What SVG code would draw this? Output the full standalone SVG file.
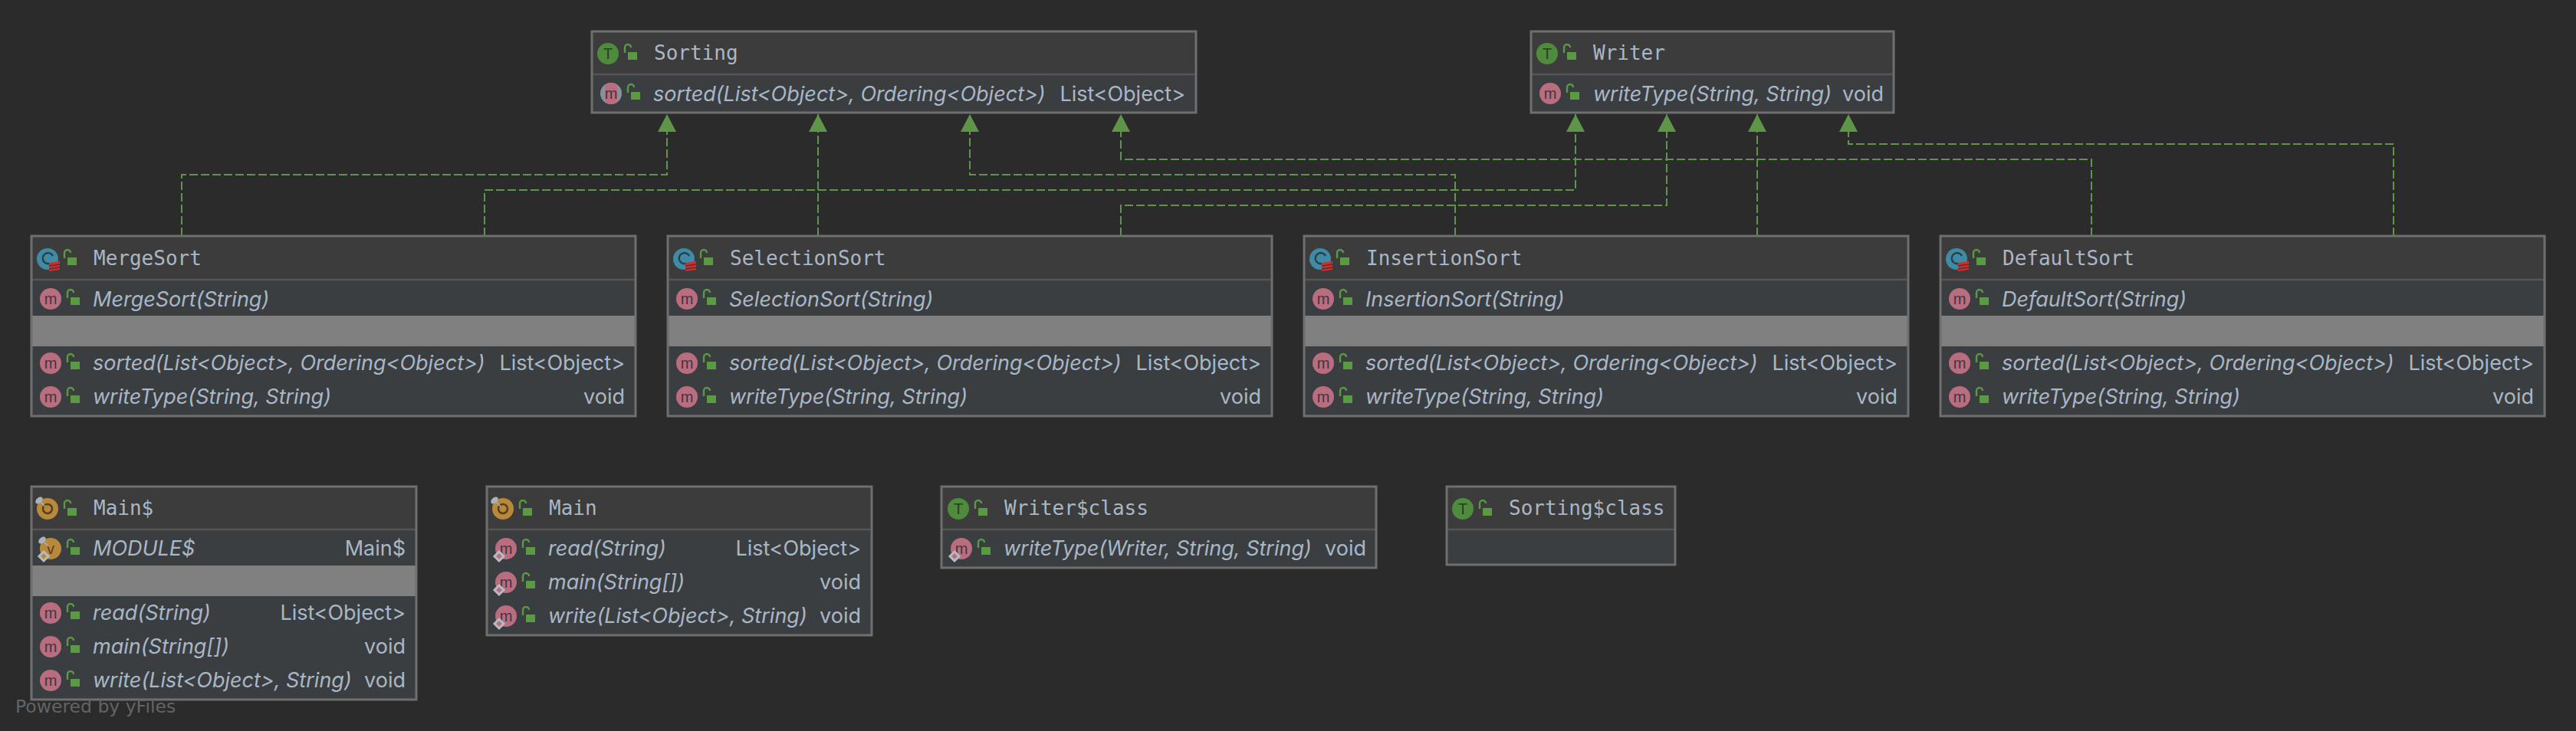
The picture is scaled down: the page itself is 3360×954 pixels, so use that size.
<svg xmlns="http://www.w3.org/2000/svg" width="3360" height="954" viewBox="0 0 3360 954">
<style>
.box{fill:#3b3e41;stroke:none}
.hd{fill:#3c3c3c}
.bd{fill:none;stroke:#6f6f6f;stroke-width:3}
.dv{stroke:#555;stroke-width:2.5}
.gr{fill:#808080}
.t{font-family:"DejaVu Sans Mono","Liberation Mono",monospace;font-size:26px;fill:#a9b7c6}
.s{font-family:Inter,"Liberation Sans",sans-serif;font-size:27px;fill:#a9b7c6;font-style:italic}
.r{font-family:Inter,"Liberation Sans",sans-serif;font-size:27px;fill:#a9b7c6;text-anchor:end}
.ic{font-family:"Liberation Sans",sans-serif;font-size:20px;text-anchor:middle}
.c{fill:none;stroke:#5e9548;stroke-width:2;stroke-dasharray:11 4}
.pb{font-family:"DejaVu Sans",sans-serif;font-size:23.5px;fill:#626466}
</style>
<defs>
<clipPath id="rc"><circle r="14"/></clipPath>
<marker id="arr" markerUnits="userSpaceOnUse" markerWidth="24" markerHeight="24" refX="23" refY="12" orient="auto"><path d="M0 0L23 12L0 24Z" fill="#5e9548"/></marker>
<g id="lock"><path d="M-7 -2V-9a4 4 0 0 1 8 0" fill="none" stroke="#5a9a42" stroke-width="2.4"/><rect x="-3" y="-3" width="12" height="10" fill="#5a9a42"/></g>
<g id="m"><circle r="14" fill="#b96d7f"/><text class="ic" y="7" fill="#45343a">m</text></g>
<g id="mr"><circle r="14" fill="#87939c"/><rect x="-8" y="-14" width="16" height="28" fill="#b96d7f" clip-path="url(#rc)"/><text class="ic" y="7" fill="#45343a">m</text></g>
<g id="T"><circle r="14" fill="#4f8b3c"/><text class="ic" y="7" fill="#2d3a2a">T</text></g>
<g id="O"><circle r="14" fill="#b8883b"/><circle r="6" fill="none" stroke="#54401f" stroke-width="2.5"/><line x1="-11" y1="-11" x2="-3" y2="-3" stroke="#a8b3bb" stroke-width="1.5"/><ellipse cx="-11" cy="-11" rx="5.5" ry="3.5" transform="rotate(-40 -11 -11)" fill="#a8b3bb"/></g>
<g id="C"><circle r="14" fill="#3f8ba6"/><path d="M7 -4A7 7 0 1 0 2 6" fill="none" stroke="#2b3f4a" stroke-width="2.5"/><path d="M2 5L16 3L16 14L2 16Z" fill="#d92a2a"/><path d="M2 9L16 7M2 13L16 11" stroke="#3c3c3c" stroke-width="1.4"/></g>
<g id="V"><circle r="14" fill="#b8883b"/><text class="ic" y="7" fill="#54401f">v</text><line x1="-11" y1="-11" x2="-3" y2="-3" stroke="#a8b3bb" stroke-width="1.5"/><ellipse cx="-11" cy="-11" rx="5.5" ry="3.5" transform="rotate(-40 -11 -11)" fill="#a8b3bb"/><path d="M-9 4L-3 10L-9 16L-15 10Z" fill="#b8883b" stroke="#b5bcc2" stroke-width="3"/></g>
<g id="d"><path d="M-9 4L-3 10L-9 16L-15 10Z" fill="#b96d7f" stroke="#b5bcc2" stroke-width="3"/></g>
</defs>
<rect width="3360" height="954" fill="#2b2b2b"/>
<g id="connectors">
<path class="c" marker-end="url(#arr)" d="M237 308V228H870V149"/>
<path class="c" marker-end="url(#arr)" d="M632 308V248H2055V149"/>
<path class="c" marker-end="url(#arr)" d="M1067 308V149"/>
<path class="c" marker-end="url(#arr)" d="M1462 308V268H2174V149"/>
<path class="c" marker-end="url(#arr)" d="M1898 308V228H1265V149"/>
<path class="c" marker-end="url(#arr)" d="M2292 308V149"/>
<path class="c" marker-end="url(#arr)" d="M2728 308V208H1462V149"/>
<path class="c" marker-end="url(#arr)" d="M3122 308V188H2411V149"/>
</g>
<g id="Sorting"><rect class="box" x="772" y="41" width="788" height="106"/><rect class="hd" x="772" y="41" width="788" height="56"/><line class="dv" x1="772" x2="1560" y1="97" y2="97"/><rect class="bd" x="772" y="41" width="788" height="106"/>
<use href="#T" x="793" y="70"/><use href="#lock" x="822" y="71"/><text class="t" x="853" y="78">Sorting</text>
<use href="#mr" x="797" y="122"/><use href="#lock" x="826" y="123"/><text class="s" x="852" y="132">sorted(List&lt;Object&gt;, Ordering&lt;Object&gt;)</text><text class="r" x="1546" y="132">List&lt;Object&gt;</text></g>
<g id="Writer"><rect class="box" x="1997" y="41" width="473" height="106"/><rect class="hd" x="1997" y="41" width="473" height="56"/><line class="dv" x1="1997" x2="2470" y1="97" y2="97"/><rect class="bd" x="1997" y="41" width="473" height="106"/>
<use href="#T" x="2018" y="70"/><use href="#lock" x="2047" y="71"/><text class="t" x="2078" y="78">Writer</text>
<use href="#m" x="2022" y="122"/><use href="#lock" x="2051" y="123"/><text class="s" x="2078" y="132">writeType(String, String)</text><text class="r" x="2457" y="132">void</text></g>
<g id="MergeSort"><rect class="box" x="41" y="308" width="788" height="235"/><rect class="hd" x="41" y="308" width="788" height="57"/><line class="dv" x1="41" x2="829" y1="365" y2="365"/><rect class="gr" x="41" y="412" width="788" height="40"/><rect class="bd" x="41" y="308" width="788" height="235"/>
<use href="#C" x="62" y="338"/><use href="#lock" x="91" y="339"/><text class="t" x="122" y="346">MergeSort</text>
<use href="#m" x="66" y="390"/><use href="#lock" x="95" y="391"/><text class="s" x="121" y="400">MergeSort(String)</text>
<use href="#m" x="66" y="474"/><use href="#lock" x="95" y="475"/><text class="s" x="121" y="483">sorted(List&lt;Object&gt;, Ordering&lt;Object&gt;)</text><text class="r" x="815" y="483">List&lt;Object&gt;</text>
<use href="#m" x="66" y="518"/><use href="#lock" x="95" y="519"/><text class="s" x="121" y="527">writeType(String, String)</text><text class="r" x="815" y="527">void</text></g>
<g id="SelectionSort"><rect class="box" x="871" y="308" width="788" height="235"/><rect class="hd" x="871" y="308" width="788" height="57"/><line class="dv" x1="871" x2="1659" y1="365" y2="365"/><rect class="gr" x="871" y="412" width="788" height="40"/><rect class="bd" x="871" y="308" width="788" height="235"/>
<use href="#C" x="892" y="338"/><use href="#lock" x="921" y="339"/><text class="t" x="952" y="346">SelectionSort</text>
<use href="#m" x="896" y="390"/><use href="#lock" x="925" y="391"/><text class="s" x="951" y="400">SelectionSort(String)</text>
<use href="#m" x="896" y="474"/><use href="#lock" x="925" y="475"/><text class="s" x="951" y="483">sorted(List&lt;Object&gt;, Ordering&lt;Object&gt;)</text><text class="r" x="1645" y="483">List&lt;Object&gt;</text>
<use href="#m" x="896" y="518"/><use href="#lock" x="925" y="519"/><text class="s" x="951" y="527">writeType(String, String)</text><text class="r" x="1645" y="527">void</text></g>
<g id="InsertionSort"><rect class="box" x="1701" y="308" width="788" height="235"/><rect class="hd" x="1701" y="308" width="788" height="57"/><line class="dv" x1="1701" x2="2489" y1="365" y2="365"/><rect class="gr" x="1701" y="412" width="788" height="40"/><rect class="bd" x="1701" y="308" width="788" height="235"/>
<use href="#C" x="1722" y="338"/><use href="#lock" x="1751" y="339"/><text class="t" x="1782" y="346">InsertionSort</text>
<use href="#m" x="1726" y="390"/><use href="#lock" x="1755" y="391"/><text class="s" x="1781" y="400">InsertionSort(String)</text>
<use href="#m" x="1726" y="474"/><use href="#lock" x="1755" y="475"/><text class="s" x="1781" y="483">sorted(List&lt;Object&gt;, Ordering&lt;Object&gt;)</text><text class="r" x="2475" y="483">List&lt;Object&gt;</text>
<use href="#m" x="1726" y="518"/><use href="#lock" x="1755" y="519"/><text class="s" x="1781" y="527">writeType(String, String)</text><text class="r" x="2475" y="527">void</text></g>
<g id="DefaultSort"><rect class="box" x="2531" y="308" width="788" height="235"/><rect class="hd" x="2531" y="308" width="788" height="57"/><line class="dv" x1="2531" x2="3319" y1="365" y2="365"/><rect class="gr" x="2531" y="412" width="788" height="40"/><rect class="bd" x="2531" y="308" width="788" height="235"/>
<use href="#C" x="2552" y="338"/><use href="#lock" x="2581" y="339"/><text class="t" x="2612" y="346">DefaultSort</text>
<use href="#m" x="2556" y="390"/><use href="#lock" x="2585" y="391"/><text class="s" x="2611" y="400">DefaultSort(String)</text>
<use href="#m" x="2556" y="474"/><use href="#lock" x="2585" y="475"/><text class="s" x="2611" y="483">sorted(List&lt;Object&gt;, Ordering&lt;Object&gt;)</text><text class="r" x="3305" y="483">List&lt;Object&gt;</text>
<use href="#m" x="2556" y="518"/><use href="#lock" x="2585" y="519"/><text class="s" x="2611" y="527">writeType(String, String)</text><text class="r" x="3305" y="527">void</text></g>
<g id="MainObject"><rect class="box" x="41" y="635" width="502" height="278"/><rect class="hd" x="41" y="635" width="502" height="56"/><line class="dv" x1="41" x2="543" y1="691" y2="691"/><rect class="gr" x="41" y="738" width="502" height="40"/><rect class="bd" x="41" y="635" width="502" height="278"/>
<use href="#O" x="62" y="664"/><use href="#lock" x="91" y="666"/><text class="t" x="122" y="672">Main$</text>
<use href="#V" x="66" y="716"/><use href="#lock" x="95" y="717"/><text class="s" x="121" y="725">MODULE$</text><text class="r" x="529" y="725">Main$</text>
<use href="#m" x="66" y="800"/><use href="#lock" x="95" y="801"/><text class="s" x="121" y="809">read(String)</text><text class="r" x="529" y="809">List&lt;Object&gt;</text>
<use href="#m" x="66" y="844"/><use href="#lock" x="95" y="845"/><text class="s" x="121" y="853">main(String[])</text><text class="r" x="529" y="853">void</text>
<use href="#m" x="66" y="888"/><use href="#lock" x="95" y="889"/><text class="s" x="121" y="897">write(List&lt;Object&gt;, String)</text><text class="r" x="529" y="897">void</text></g>
<g id="Main"><rect class="box" x="635" y="635" width="502" height="194"/><rect class="hd" x="635" y="635" width="502" height="56"/><line class="dv" x1="635" x2="1137" y1="691" y2="691"/><rect class="bd" x="635" y="635" width="502" height="194"/>
<use href="#O" x="656" y="664"/><use href="#lock" x="685" y="666"/><text class="t" x="716" y="672">Main</text>
<use href="#m" x="660" y="716"/><use href="#d" x="660" y="716"/><use href="#lock" x="689" y="717"/><text class="s" x="715" y="725">read(String)</text><text class="r" x="1123" y="725">List&lt;Object&gt;</text>
<use href="#m" x="660" y="760"/><use href="#d" x="660" y="760"/><use href="#lock" x="689" y="761"/><text class="s" x="715" y="769">main(String[])</text><text class="r" x="1123" y="769">void</text>
<use href="#m" x="660" y="804"/><use href="#d" x="660" y="804"/><use href="#lock" x="689" y="805"/><text class="s" x="715" y="813">write(List&lt;Object&gt;, String)</text><text class="r" x="1123" y="813">void</text></g>
<g id="WriterClass"><rect class="box" x="1228" y="635" width="567" height="106"/><rect class="hd" x="1228" y="635" width="567" height="56"/><line class="dv" x1="1228" x2="1795" y1="691" y2="691"/><rect class="bd" x="1228" y="635" width="567" height="106"/>
<use href="#T" x="1250" y="664"/><use href="#lock" x="1279" y="666"/><text class="t" x="1310" y="672">Writer$class</text>
<use href="#m" x="1254" y="716"/><use href="#d" x="1254" y="716"/><use href="#lock" x="1283" y="717"/><text class="s" x="1309" y="725">writeType(Writer, String, String)</text><text class="r" x="1782" y="725">void</text></g>
<g id="SortingClass"><rect class="box" x="1887" y="635" width="298" height="102"/><rect class="hd" x="1887" y="635" width="298" height="56"/><line class="dv" x1="1887" x2="2185" y1="691" y2="691"/><rect class="bd" x="1887" y="635" width="298" height="102"/>
<use href="#T" x="1908" y="664"/><use href="#lock" x="1937" y="666"/><text class="t" x="1968" y="672">Sorting$class</text></g>
<text class="pb" x="20" y="930">Powered by yFiles</text>
</svg>
